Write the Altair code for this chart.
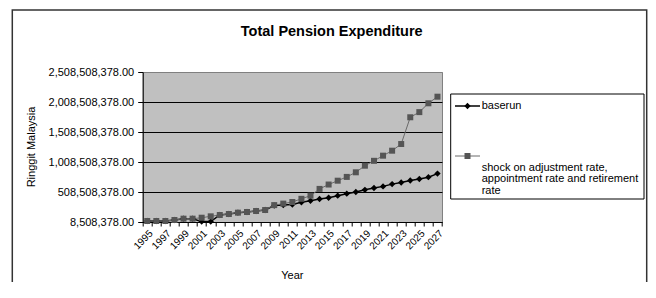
import altair as alt
import pandas as pd

years = [1995, 1996, 1997, 1998, 1999, 2000, 2001, 2002, 2003, 2004, 2005,
         2006, 2007, 2008, 2009, 2010, 2011, 2012, 2013, 2014, 2015, 2016,
         2017, 2018, 2019, 2020, 2021, 2022, 2023, 2024, 2025, 2026, 2027]

# values in millions of Ringgit
baserun_m = [25, 25, 25, 42, 64, 64, 15, 15, 125, 142, 164, 175, 192, 208,
             282, 290, 300, 337, 363, 392, 413, 447, 481, 508, 545, 575,
             602, 640, 667, 700, 725, 755, 815]
shock_m = [25, 25, 25, 42, 64, 64, 80, 103, 125, 142, 164, 175, 192, 208,
           290, 315, 342, 395, 447, 560, 633, 697, 760, 837, 947, 1028,
           1114, 1197, 1308, 1754, 1840, 1987, 2097]

series_names = ["baserun", "shock on adjustment rate, appointment rate and retirement rate"]
y_ticks = [8508378, 508508378, 1008508378, 1508508378, 2008508378, 2508508378]

rows = []
for yr, b, s in zip(years, baserun_m, shock_m):
    rows.append({"year": yr, "series": series_names[0], "value": b * 1e6})
    rows.append({"year": yr, "series": series_names[1], "value": s * 1e6})
df = pd.DataFrame(rows)

FONT = "Liberation Sans"
W, H = 299.3, 150

x_enc = alt.X(
    "year:O",
    bandPosition=0.5,
    scale=alt.Scale(type="band", domain=years, paddingInner=0, paddingOuter=0),
    axis=alt.Axis(
        title=None,
        values=years,
        labelExpr="datum.value % 2 == 1 ? datum.label : ''",
        labelAngle=315,
        labelFontSize=10,
        labelFont=FONT,
        labelColor="black",
        labelOverlap=False,
        labelPadding=2,
        tickBand="extent",
        tickSize=4,
        tickColor="black",
        domainColor="black",
        grid=False,
    ),
)
y_enc = alt.Y(
    "value:Q",
    scale=alt.Scale(domain=[y_ticks[0], y_ticks[-1]], nice=False, zero=False),
    axis=alt.Axis(
        title=None,
        values=y_ticks,
        format=",.2f",
        labelFontSize=11,
        labelFont=FONT,
        labelColor="black",
        labelPadding=4,
        tickSize=5,
        tickColor="black",
        domainColor="black",
        grid=True,
        gridColor={"condition": {"test": "datum.value > 2500000000", "value": "#808080"},
                   "value": "black"},
        gridWidth=1,
    ),
)

base = alt.Chart(df)
b_line = base.transform_filter(alt.datum.series == series_names[0]).mark_line(
    color="black", strokeWidth=1.5).encode(x=x_enc, y=y_enc)
b_pts = base.transform_filter(alt.datum.series == series_names[0]).mark_point(
    shape="diamond", filled=True, color="black", size=40, opacity=1).encode(x=x_enc, y=y_enc)
s_line = base.transform_filter(alt.datum.series == series_names[1]).mark_line(
    color="#6a6a6a", strokeWidth=1).encode(x=x_enc, y=y_enc)
s_pts = base.transform_filter(alt.datum.series == series_names[1]).mark_point(
    shape="square", filled=True, color="#555555", size=36, opacity=1).encode(x=x_enc, y=y_enc)

one = pd.DataFrame({"k": [0]})
deco = alt.Chart(one)

frame = deco.mark_rect(fill=None, stroke="#333333", strokeWidth=1.5).encode(
    x=alt.value(-130.4), x2=alt.value(504), y=alt.value(-62), y2=alt.value(320))
title = deco.mark_text(text="Total Pension Expenditure", font=FONT, fontSize=14.5,
                       fontWeight="bold", color="black", baseline="middle",
                       align="center").encode(x=alt.value(189), y=alt.value(-40.3))
ytitle = deco.mark_text(text="Ringgit Malaysia", font=FONT, fontSize=11, angle=270,
                        color="black", baseline="middle", align="center").encode(
    x=alt.value(-110.7), y=alt.value(75))
xtitle = deco.mark_text(text="Year", font=FONT, fontSize=11, color="black",
                        baseline="middle", align="center").encode(
    x=alt.value(W / 2), y=alt.value(204))

leg_box = deco.mark_rect(fill="white", stroke="black", strokeWidth=1).encode(
    x=alt.value(308), x2=alt.value(501.3), y=alt.value(22), y2=alt.value(127))
leg_b_line = deco.mark_rule(color="black", strokeWidth=1.5).encode(
    x=alt.value(312.3), x2=alt.value(337.3), y=alt.value(34))
leg_b_pt = deco.mark_point(shape="diamond", filled=True, color="black", size=40,
                           opacity=1).encode(x=alt.value(324.8), y=alt.value(34))
leg_b_txt = deco.mark_text(text="baserun", font=FONT, fontSize=11, color="black",
                           align="left", baseline="middle").encode(
    x=alt.value(339), y=alt.value(34))
leg_s_line = deco.mark_rule(color="#6a6a6a", strokeWidth=1).encode(
    x=alt.value(312.3), x2=alt.value(337.3), y=alt.value(84))
leg_s_pt = deco.mark_point(shape="square", filled=True, color="#555555", size=36,
                           opacity=1).encode(x=alt.value(324.8), y=alt.value(84))
leg_s_txt = deco.mark_text(
    text="shock on adjustment rate,\nappointment rate and retirement\nrate",
    lineBreak="\n", lineHeight=11.7, font=FONT, fontSize=11, color="black",
    align="left", baseline="middle").encode(x=alt.value(339), y=alt.value(95.7))

chart = alt.layer(
    frame, title, ytitle, xtitle,
    b_line, s_line, b_pts, s_pts,
    leg_box, leg_b_line, leg_b_pt, leg_b_txt, leg_s_line, leg_s_pt, leg_s_txt,
).properties(
    width=W, height=H,
    autosize=alt.AutoSizeParams(type="none"),
    padding={"left": 134.7, "top": 64, "right": 206, "bottom": 60},
    background="white",
).configure(font=FONT).configure_view(
    fill="#C0C0C0", stroke="#808080", strokeWidth=1
)

chart.save("out.html", embed_options={"renderer": "svg", "actions": False})
